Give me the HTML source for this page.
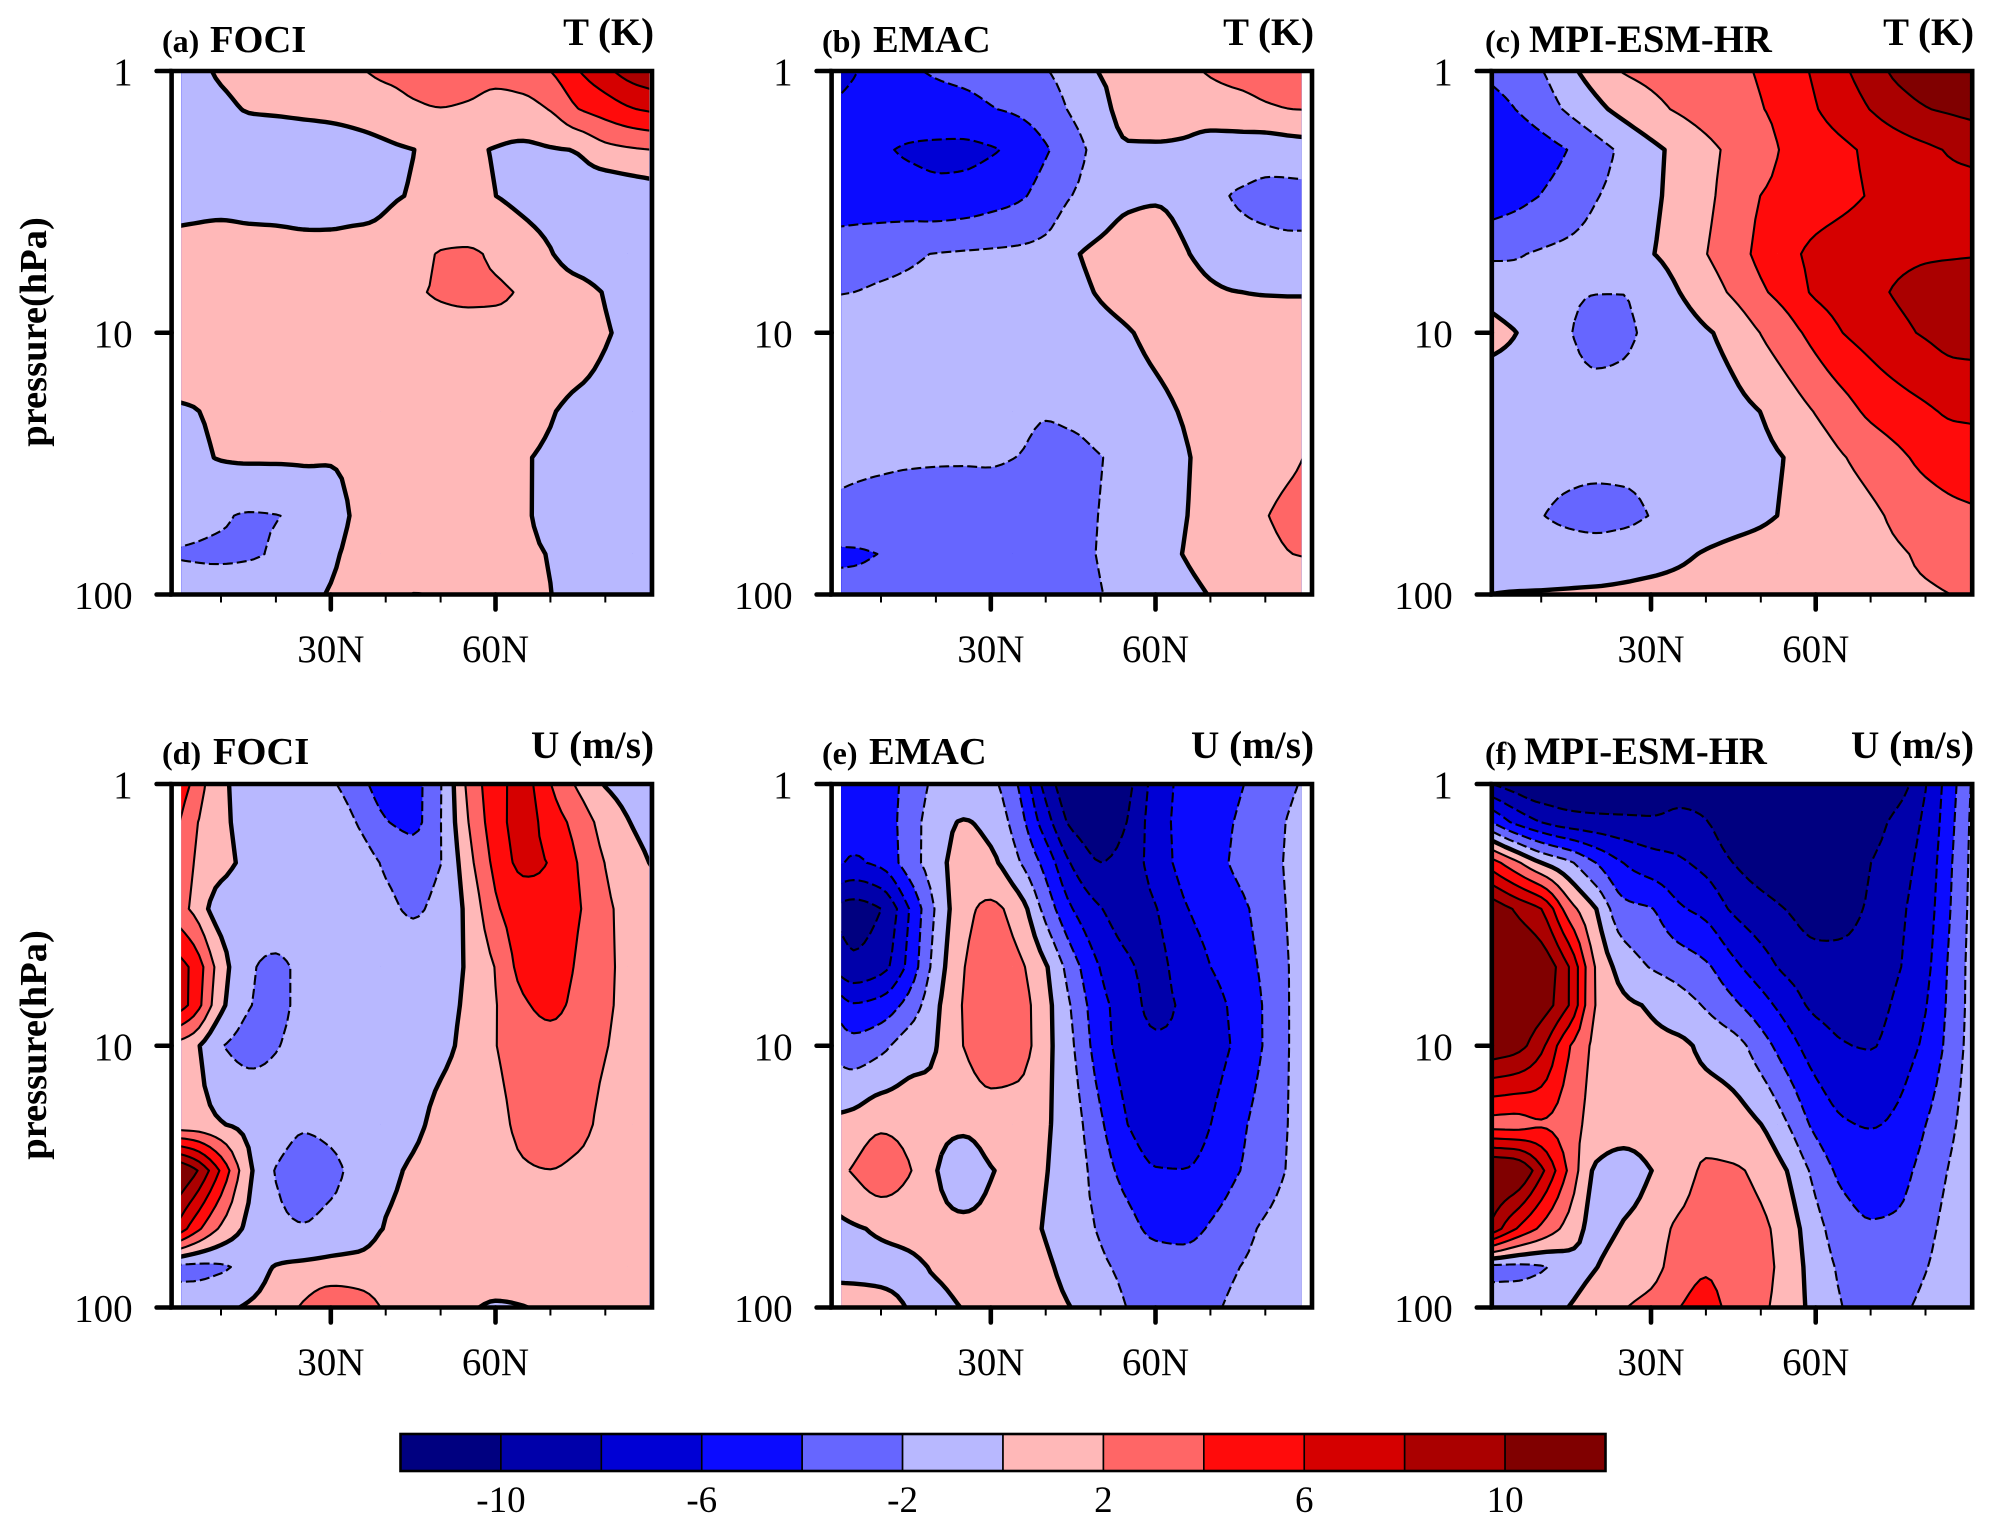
<!DOCTYPE html>
<html lang="en">
<head>
<meta charset="utf-8">
<title>Zonal-mean T and U anomalies</title>
<style>
html,body{margin:0;padding:0;background:#fff;}
svg{display:block;font-family:"Liberation Serif",serif;}
.bold{font-weight:bold;}
</style>
</head>
<body>
<svg id="figure" xmlns="http://www.w3.org/2000/svg" width="1993" height="1530" viewBox="0 0 1993 1530">
  <rect width="1993" height="1530" fill="#fff"/>
  <g id="panels"></g>
  <g id="legend"></g>

  <text class="bold" x="162" y="52" font-size="32">(a)</text>
  <text class="bold" x="210" y="52" font-size="38.5">FOCI</text>
  <text class="bold" x="654" y="45" font-size="38.8" text-anchor="end">T (K)</text>

  <text class="bold" x="822" y="52" font-size="32">(b)</text>
  <text class="bold" x="873" y="52" font-size="38.5">EMAC</text>
  <text class="bold" x="1314" y="45" font-size="38.8" text-anchor="end">T (K)</text>

  <text class="bold" x="1485" y="52" font-size="32">(c)</text>
  <text class="bold" x="1529" y="52" font-size="38.7">MPI-ESM-HR</text>
  <text class="bold" x="1974" y="45" font-size="38.8" text-anchor="end">T (K)</text>

  <text class="bold" x="162" y="764" font-size="32">(d)</text>
  <text class="bold" x="213" y="764" font-size="38.5">FOCI</text>
  <text class="bold" x="654" y="758" font-size="39.2" text-anchor="end">U (m/s)</text>

  <text class="bold" x="822" y="764" font-size="32">(e)</text>
  <text class="bold" x="869" y="764" font-size="38.5">EMAC</text>
  <text class="bold" x="1314" y="758" font-size="39.2" text-anchor="end">U (m/s)</text>

  <text class="bold" x="1485" y="764" font-size="32">(f)</text>
  <text class="bold" x="1524" y="764" font-size="38.7">MPI-ESM-HR</text>
  <text class="bold" x="1974" y="758" font-size="39.2" text-anchor="end">U (m/s)</text>

  <text class="bold" font-size="38.5" text-anchor="middle" transform="translate(46,332) rotate(-90)">pressure(hPa)</text>
  <text class="bold" font-size="38.5" text-anchor="middle" transform="translate(46,1045) rotate(-90)">pressure(hPa)</text>
</svg>

<script>
const pressures = [1, 1.4, 2, 3, 5, 7, 10, 20, 30, 50, 70, 100];
const lats = [1, 5, 10, 15, 20, 25, 30, 35, 40, 45, 50, 55, 60, 65, 70, 75, 80, 85, 88.5];
const levels = [-10, -8, -6, -4, -2, 0, 2, 4, 6, 8, 10];
const bandColors = ['#000080', '#0000AA', '#0000D5', '#0B0BFF', '#6666FF', '#B8B8FF', '#FFB8B8', '#FF6666', '#FF0B0B', '#D50000', '#AA0000', '#800000'];
const latMajorTicks = [30, 60];
const latMajorLabels = ['30N', '60N'];
const latMinorTicks = [10, 20, 40, 50, 70, 80];
const pressureTicks = [1, 10, 100];
const pressureLabels = ['1', '10', '100'];
const legendLabelLevels = [-10, -6, -2, 2, 6, 10];

const panelA = [
[-.8,-.6,.3,.8,1,1.1,1.3,1.8,2.5,2.8,3,2.9,2.6,2.9,4,5.9,7.5,9,9.6],
[-1,-1,-.5,.1,.2,.3,.4,.6,.9,1.7,1.95,1.75,1.3,1.4,2.1,3.95,4.9,5.9,6.3],
[-1,-1,-1,-1,-1,-.9,-.8,-.6,-.3,-.02,.5,.3,-.1,-.4,-.15,.1,1.36,1.8,2],
[-1,-1,-1,-1.1,-1.1,-1.1,-1,-.9,-.2,.1,.6,.5,.01,-.5,-.8,-1,-1.7,-1.4,-1.15],
[.85,1.1,1.41,1.2,1.05,.8,.73,.89,.55,1.2,2.1,2.2,1.7,.9,.1,-.8,-1,-1,-1],
[1,1.2,1.2,1.1,1.1,1.1,1.2,1.2,1.3,1.8,2.15,2.3,2.25,1.8,1,.6,-.1,-.8,-.9],
[.7,.8,.9,1,1,1,1,1.1,1.2,1.4,1.5,1.5,1.5,1.4,1.2,.9,.15,-.4,-.5],
[-.12,-.05,.3,.5,.6,.6,.7,.7,.8,.9,.9,.9,.8,.5,.1,-.4,-.6,-.7,-.7],
[-.7,-.4,.1,.25,.25,.25,.12,.3,.5,.6,.7,.6,.4,.1,-.2,-.5,-.6,-.7,-.7],
[-1.3,-1.5,-1.8,-2.15,-2.05,-1.5,-.7,.25,.6,.7,.7,.7,.5,.15,-.3,-.5,-.6,-.7,-.7],
[-2.1,-2.2,-2.3,-2.2,-1.8,-1.2,-.25,.4,.7,.8,.8,.7,.5,.2,-.05,-.4,-.6,-.7,-.7],
[-1.2,-1.2,-1.1,-1,-.8,-.4,.1,.5,1,2.05,1.9,1.5,1,.5,.02,-.4,-.6,-.7,-.7]
];
const panelB = [
[-6.5,-6.1,-5.3,-4.3,-3.8,-3.5,-3.2,-2.8,-2.1,-1.1,.1,.6,1,1.5,2.2,2.8,3.2,3.5,3.7],
[-5.9,-5.6,-5.2,-5,-4.8,-4.6,-4.1,-3.7,-3,-1.7,-.6,.7,.8,1,1,1.1,1.7,2,2.05],
[-5.5,-5.5,-5.8,-6.2,-6.4,-6.5,-6.2,-5.4,-4.2,-2.8,-1.2,-.2,-.2,-.4,-.9,-.9,-1.26,-1.03,-.83],
[-5.2,-5.2,-5.3,-5.4,-5.6,-5.4,-4.9,-4.3,-3.2,-1.95,-1.2,-.4,-.2,-.6,-1.4,-2.2,-2.5,-2.6,-2.6],
[-3,-2.8,-2.5,-2.2,-1.95,-1.8,-1.7,-1.6,-1.4,-.2,.5,1,1,.2,-.6,-1.3,-1.5,-1.6,-1.6],
[-2.1,-2,-1.8,-1.7,-1.6,-1.5,-1.4,-1.3,-1,-.5,.15,.6,1,.8,.3,.02,-.06,-.07,-.07],
[-1,-1,-1,-1,-1,-1,-1,-1,-1,-.9,-.5,-.1,.4,.7,.9,.8,.7,.6,.6],
[-1.2,-1.2,-1.2,-1.2,-1.2,-1.2,-1.3,-1.6,-1.9,-1.7,-1.2,-.8,-.4,.1,.6,.8,.9,1,1],
[-1.5,-1.6,-1.7,-1.8,-1.85,-1.88,-1.9,-2.02,-2.4,-2.4,-2.05,-1.4,-.9,-.2,.5,1,1.2,1.7,2.3],
[-2.3,-2.5,-2.7,-2.8,-2.8,-2.7,-2.5,-2.6,-2.7,-2.4,-1.95,-1.3,-.7,-.1,.5,1,1.9,2.6,2.9],
[-4.4,-4.3,-3.95,-3.6,-3.4,-3.2,-3,-2.9,-2.7,-2.4,-1.9,-1.3,-.6,.02,.5,1,1.5,2,2.1],
[-3.3,-3.3,-3.2,-3.1,-3,-2.9,-2.8,-2.7,-2.6,-2.4,-2.05,-1.4,-.9,-.4,.05,.5,.9,1.1,1.2]
];
const panelC = [
[-3.6,-3.1,-2.1,-.5,.9,2.1,2.5,2.8,3.2,3.6,4.2,5.2,6.3,7.7,9,10.5,11.2,11.5,11.6],
[-4.7,-4.05,-3,-1.7,-.5,.6,1.5,2.2,2.8,3.3,3.9,4.8,5.9,7,8.05,9.1,9.9,10.3,10.6],
[-5.8,-5.4,-4.8,-3.95,-2.8,-1.6,-.5,.5,1.5,2.4,3.1,4.4,5,5.6,6.4,7,7.6,8.2,8.4],
[-5.2,-4.7,-3.95,-3.2,-2.1,-1.4,-.4,.6,1.6,2.8,4.02,4.6,5,5.5,6.15,6.8,7.1,7.3,7.36],
[-2.3,-2.15,-1.8,-1.5,-1.2,-.8,-.1,.8,1.95,3.1,4.5,5.5,6.5,7,7.3,7.6,7.8,7.85,7.9],
[-.7,-1.2,-1.5,-1.8,-1.97,-1.98,-1.3,-.05,1.1,2.3,3.7,4.8,6.3,6.9,7.5,8.2,8.6,8.9,9],
[.7,.1,-1,-1.9,-2.5,-2.3,-1.6,-1,-.2,.6,2.05,3.3,4.7,6.02,6.8,7.6,8.2,8.8,8.9],
[-1.7,-1.5,-1.4,-1.4,-1.4,-1.4,-1.3,-1.2,-.9,-.5,.02,1,2.1,3.2,4.4,5.1,5.7,6.25,6.3],
[-1.5,-1.4,-1.5,-1.6,-1.6,-1.6,-1.6,-1.4,-1.1,-.8,-.4,.1,.9,1.9,2.7,3.6,4.5,5,5.2],
[-1.2,-1.4,-1.95,-2.3,-2.5,-2.4,-1.95,-1.5,-1.1,-.7,-.3,.2,.6,1,1.6,2.4,3,3.5,3.7],
[-1.2,-1.2,-1.3,-1.4,-1.4,-1.2,-.9,-.4,.15,.5,.7,.9,1.05,1.2,1.4,1.8,2.3,2.7,2.9],
[.02,.1,.15,.25,.35,.5,.7,.8,1,1.1,1.2,1.3,1.4,1.5,1.6,1.7,1.8,2.02,2.2]
];
const panelD = [
[6.02,3.6,.3,-.4,-.5,-.6,-1.7,-3.3,-4.8,-4.5,-2.1,2.4,5.2,6.6,4.05,1.7,-.1,-.7,-.9],
[5,2.4,.4,-.4,-.4,-.5,-.6,-2.15,-3.9,-4.4,-2.05,1.95,5.02,6.8,5.02,3.3,1.2,-.1,-.6],
[5.02,2.02,.6,-.3,-.4,-.5,-.6,-.9,-2.3,-3.1,-2.05,1.3,4.5,6.4,5.9,3.95,1.95,.6,-.1],
[3.4,1.6,-.9,-1.01,-.7,-.6,-.6,-.7,-1.4,-2.3,-1.2,.4,3.7,5.02,5.4,4.2,2.4,1.3,1],
[7.4,5.5,1,-1.7,-2.4,-1.5,-1,-.6,-.5,-.5,-.3,.1,2.1,4.7,5.6,3.7,2.6,1,.7],
[7.8,5.3,.5,-1.9,-2.4,-1.5,-1,-.7,-.5,-.5,-.3,.2,1.9,3.7,4.5,3.4,2.3,1.4,1],
[1.6,.5,-1.9,-2.6,-2.1,-1.4,-1,-.9,-.8,-.6,-.3,.4,1.95,2.8,3.2,2.9,2.1,1.2,.9],
[.6,.6,.1,-.5,-1,-1.8,-1.5,-1,-.7,-.3,.4,.8,1.4,2.5,3,2.6,1.5,1,.8],
[13,10.6,5.7,.5,-2.1,-2.9,-2.5,-1.3,-.4,.2,.6,.9,1.2,1.8,1.97,1.6,1.1,.8,.6],
[8.5,5.02,1.7,-.4,-1.6,-1.9,-1.5,-1.2,.1,.4,.6,.7,.8,.9,.9,.9,.8,.7,.6],
[-2.6,-2.6,-2.3,-1.2,.1,.4,.6,.8,1,1.1,1.1,1.1,1,1,1,1,.9,.9,.8],
[-1,-.9,-.4,.2,.8,2.3,3.6,3,1.8,1,.6,.2,-.2,-.05,.3,.5,.6,.6,.6]
];
const panelE = [
[-3.7,-4.4,-4.6,-3.5,-1.6,-1.2,-1.6,-4.1,-8.7,-11.5,-11.5,-10.4,-7.2,-5.6,-5.02,-4.2,-3.3,-2.2,-1.5],
[-4.5,-5.2,-5.02,-3,-1,.1,-.6,-3.1,-7.1,-10.5,-11.3,-9.9,-6.9,-5.5,-4.8,-3.85,-3,-1.7,-1.2],
[-5.5,-6.2,-5.5,-3,-.9,.9,.4,-1.8,-4.7,-8.3,-9.98,-9.1,-7.1,-5.5,-4.8,-3.6,-2.8,-1.6,-1.1],
[-10.4,-11,-10.02,-6.1,-1.8,1.3,2.4,1,-2.7,-6.05,-7.9,-9,-8.1,-6.2,-5.4,-4.5,-3.2,-1.7,-1.2],
[-8.3,-9.6,-8.7,-5.5,-1.2,1.9,3.3,2.4,.2,-3.2,-6.1,-7.7,-8.6,-7,-6.01,-4.9,-3.6,-1.8,-1.2],
[-4.02,-5.8,-5.2,-3.3,-.4,2.1,3.3,2.8,.6,-2.3,-5.4,-7,-8.6,-7.7,-6.8,-5.4,-3.8,-1.8,-1.2],
[-2.4,-3.2,-2.5,-.9,-.05,2.02,3.3,2.9,.6,-1.9,-5.1,-6.9,-7.6,-7.7,-6.9,-5.6,-3.8,-1.8,-1.2],
[.3,.8,1.65,1.3,.6,.5,.9,.9,.2,-1.2,-3.7,-6.02,-7.1,-7.3,-6.02,-4.5,-3.1,-1.8,-1.2],
[1.2,2.2,3.5,2.2,.1,-1.5,-.1,.4,.05,-1,-3,-4.8,-5.9,-5.95,-5.3,-4.1,-3,-1.7,-1.2],
[-.6,-.2,.2,.4,.6,.6,.5,.4,-.1,-1.2,-2.2,-3.3,-4.5,-4.7,-3.8,-2.8,-1.7,-1.1,-.9],
[-.8,-.7,-.5,-.3,.15,.6,.7,.6,.2,-.6,-1.7,-2.4,-2.9,-3,-2.7,-2.05,-1.4,-1,-.8],
[1.3,1,.5,-.05,-.4,.05,.4,.6,.4,-.05,-1,-2.05,-2.6,-2.8,-2.3,-1.6,-1.2,-.9,-.8]
];
const panelF = [
[-10.02,-11,-12,-12,-12,-12,-12,-11,-11,-12,-12,-12,-12,-12,-12,-11,-8.1,-4.5,-1.8],
[-4.02,-6.3,-8.02,-9.1,-9.4,-9.5,-9.6,-9.4,-9.9,-11.5,-12,-12,-12,-12,-11,-9.3,-7.6,-4.2,-1.6],
[4.9,2.7,.02,-1.6,-4.02,-6.02,-7.1,-7.7,-8.6,-10.02,-11,-11.5,-12,-12,-10.02,-8.8,-7.2,-3.9,-1.5],
[11.5,9.9,8.02,3,.02,-3.4,-3.9,-5.7,-6.6,-8.3,-9.3,-10.1,-10.9,-10.6,-9.7,-8.4,-6.9,-3.7,-1.4],
[13,12.5,11.5,8.05,1.8,-.8,-2.1,-2.8,-3.7,-5.5,-7.1,-8.5,-9.2,-9.4,-9.2,-8.15,-6.5,-3.3,-1.3],
[13,12,11,8.02,1.9,.4,-.2,-1.1,-2.2,-3.6,-5.2,-6.9,-8.4,-8.7,-8.7,-7.6,-6.1,-3.2,-1.3],
[11.5,10.9,8.5,4.2,1.6,.9,.5,.4,-.5,-1.2,-3.1,-5.2,-7,-7.9,-8.1,-7,-5.6,-3,-1.2],
[3,2.9,3.7,2.8,1.3,.9,.9,.8,1.2,.9,.02,-2.02,-4.5,-5.8,-6.1,-5.6,-4.02,-2.2,-1],
[13,12.5,8.5,3.7,-.3,-.85,-.02,.8,2.3,2.2,1.5,-.1,-2.6,-4.5,-5.02,-4.6,-3.3,-1.7,-.9],
[9.44,6.3,3.6,1.3,-.6,.15,.8,2.4,3,2.9,2.4,.9,-1.3,-3.1,-3.8,-3.7,-2.6,-1.2,-.8],
[-2.6,-2.6,-2.2,-1,-.05,.9,1.3,3,3.8,3.1,2.7,1,-.8,-2.4,-3.1,-3.1,-2.1,-1,-.7],
[-1,-.9,-.7,.02,1,1.9,2.6,3.95,4.6,3.4,2.4,1,-.6,-2.02,-2.8,-2.4,-1.5,-.8,-.6]
];

const layouts = [
  { key: 'a', grid: panelA, left: 171.6, top: 71,  fillFrom: 2.75, fillTo: 88 },
  { key: 'b', grid: panelB, left: 831.6, top: 71,  fillFrom: 2.75, fillTo: 86.6 },
  { key: 'c', grid: panelC, left: 1491.8, top: 71, fillFrom: 1, fillTo: 88.5 },
  { key: 'd', grid: panelD, left: 171.6, top: 784, fillFrom: 2.75, fillTo: 88 },
  { key: 'e', grid: panelE, left: 831.6, top: 784, fillFrom: 2.75, fillTo: 86.6 },
  { key: 'f', grid: panelF, left: 1491.8, top: 784, fillFrom: 1, fillTo: 88.5 }
];
const PW = 480.4, PH = 523.5, DEG = 5.49, AXIS_W = 4.6, REFINE = 5;
const NS = 'http://www.w3.org/2000/svg';

function mk(parent, tag, attrs, text) {
  const el = document.createElementNS(NS, tag);
  for (const k in attrs) el.setAttribute(k, attrs[k]);
  if (text !== undefined) el.textContent = text;
  parent.appendChild(el);
  return el;
}

/* Monotone cubic refinement along latitude: passes through every value read
   from the grid, never overshoots, and rounds the contours the way the original does. */
function refineRow(xs, ys) {
  const n = xs.length;
  const h = [], d = [], m = new Array(n);
  for (let i = 0; i < n - 1; i++) {
    h.push(xs[i + 1] - xs[i]);
    d.push((ys[i + 1] - ys[i]) / h[i]);
  }
  m[0] = d[0];
  m[n - 1] = d[n - 2];
  for (let i = 1; i < n - 1; i++) {
    if (d[i - 1] * d[i] <= 0) {
      m[i] = 0;
    } else {
      const w1 = 2 * h[i] + h[i - 1], w2 = h[i] + 2 * h[i - 1];
      m[i] = (w1 + w2) / (w1 / d[i - 1] + w2 / d[i]);
    }
  }
  const out = [];
  for (let i = 0; i < n - 1; i++) {
    for (let s = 0; s < REFINE; s++) {
      const t = s / REFINE, t2 = t * t, t3 = t2 * t;
      out.push((2 * t3 - 3 * t2 + 1) * ys[i] + (t3 - 2 * t2 + t) * h[i] * m[i] +
               (-2 * t3 + 3 * t2) * ys[i + 1] + (t3 - t2) * h[i] * m[i + 1]);
    }
  }
  out.push(ys[n - 1]);
  return out;
}

function refineLats() {
  const out = [];
  for (let i = 0; i < lats.length - 1; i++) {
    for (let s = 0; s < REFINE; s++) out.push(lats[i] + (lats[i + 1] - lats[i]) * s / REFINE);
  }
  out.push(lats[lats.length - 1]);
  return out;
}

function contourCells(grid, gridLats, level, xAt, yAt) {
  let fill = '';
  const segs = [];
  for (let j = 0; j < pressures.length - 1; j++) {
    for (let i = 0; i < gridLats.length - 1; i++) {
      const cs = [[i, j], [i + 1, j], [i + 1, j + 1], [i, j + 1]];
      const ids = ['h' + i + '_' + j, 'v' + (i + 1) + '_' + j, 'h' + i + '_' + (j + 1), 'v' + i + '_' + j];
      const vals = cs.map(c => grid[c[1]][c[0]]);
      const pts = cs.map(c => [xAt(gridLats[c[0]]), yAt(pressures[c[1]])]);
      const poly = [];
      let pending = null;
      let firstEnter = null;
      for (let k = 0; k < 4; k++) {
        const n = (k + 1) % 4;
        const a = vals[k], b = vals[n];
        const inA = a >= level, inB = b >= level;
        if (inA) poly.push(pts[k]);
        if (inA !== inB) {
          const t = (level - a) / (b - a);
          const p = [pts[k][0] + t * (pts[n][0] - pts[k][0]), pts[k][1] + t * (pts[n][1] - pts[k][1])];
          poly.push(p);
          const cross = { id: ids[k], p: p };
          if (inA) {
            pending = cross;
          } else if (pending) {
            segs.push([pending, cross]);
            pending = null;
          } else {
            firstEnter = cross;
          }
        }
      }
      if (pending && firstEnter) segs.push([pending, firstEnter]);
      if (poly.length > 2) {
        fill += 'M' + poly.map(p => p[0].toFixed(1) + ' ' + p[1].toFixed(1)).join('L') + 'Z';
      }
    }
  }
  return { fill: fill, segs: segs };
}

function chain(segs) {
  const byId = new Map();
  segs.forEach((s, idx) => {
    s.forEach(end => {
      if (!byId.has(end.id)) byId.set(end.id, []);
      byId.get(end.id).push(idx);
    });
  });
  const used = new Array(segs.length).fill(false);
  let d = '';
  function walk(startIdx, startEndIdx) {
    let idx = startIdx, from = startEndIdx;
    const line = [segs[idx][from].p];
    while (true) {
      used[idx] = true;
      const to = segs[idx][1 - from];
      line.push(to.p);
      const nextIdx = byId.get(to.id).find(q => !used[q]);
      if (nextIdx === undefined) break;
      from = segs[nextIdx][0].id === to.id ? 0 : 1;
      idx = nextIdx;
    }
    d += 'M' + line.map(p => p[0].toFixed(1) + ' ' + p[1].toFixed(1)).join('L');
  }
  segs.forEach((s, idx) => {
    if (used[idx]) return;
    if (byId.get(s[0].id).length === 1) walk(idx, 0);
    else if (byId.get(s[1].id).length === 1) walk(idx, 1);
  });
  segs.forEach((s, idx) => {
    if (!used[idx]) walk(idx, 0);
  });
  return d;
}

function drawPanel(root, cfg) {
  const xAt = lat => cfg.left + (lat - 1) * DEG;
  const yAt = p => cfg.top + Math.log10(p) / 2 * PH;
  const g = mk(root, 'g', {});
  
  

  const clipId = 'clip-' + cfg.key;
  const defs = mk(g, 'defs', {});
  
  
  const clip = mk(defs, 'clipPath', { id: clipId });
  
  
  const clipRect = mk(clip, 'rect', { x: xAt(cfg.fillFrom), y: cfg.top, width: xAt(cfg.fillTo) - xAt(cfg.fillFrom), height: PH });
  
  

  const plot = mk(g, 'g', { 'clip-path': 'url(#' + clipId + ')' });
  
  

  const base = mk(plot, 'rect', { x: xAt(1), y: cfg.top, width: xAt(88.5) - xAt(1), height: PH, fill: bandColors[0] });
  
  

  const fineLats = refineLats();
  const fineGrid = cfg.grid.map(row => refineRow(lats, row));
  const results = levels.map(level => contourCells(fineGrid, fineLats, level, xAt, yAt));
  results.forEach((res, idx) => {
    const band = mk(plot, 'path', { d: res.fill, fill: bandColors[idx + 1] });
    
    
  });
  results.forEach((res, idx) => {
    const level = levels[idx];
    const attrs = {
      d: chain(res.segs), fill: 'none', stroke: '#000',
      'stroke-width': level === 0 ? 4.4 : 2.1,
      'stroke-linejoin': 'round'
    };
    if (level < 0) attrs['stroke-dasharray'] = '10 4';
    const line = mk(plot, 'path', attrs);
    
    
  });

  const frame = mk(g, 'path', {
    d: 'M' + cfg.left + ' ' + cfg.top + 'H' + (cfg.left + PW) + 'V' + (cfg.top + PH) + 'H' + cfg.left + 'Z',
    fill: 'none', stroke: '#000', 'stroke-width': AXIS_W
  });
  
  

  pressureTicks.forEach((p, i) => {
    const y = yAt(p);
    const tick = mk(g, 'line', { x1: cfg.left - 15, x2: cfg.left, y1: y, y2: y, stroke: '#000', 'stroke-width': AXIS_W, 'stroke-linecap': 'round' });
    
    
    const label = mk(g, 'text', { x: cfg.left - 39, y: y + 14, 'font-size': 39, 'text-anchor': 'end' }, pressureLabels[i]);
    
    
  });
  latMajorTicks.forEach((lat, i) => {
    const x = xAt(lat);
    const tick = mk(g, 'line', { x1: x, x2: x, y1: cfg.top + PH, y2: cfg.top + PH + 15, stroke: '#000', 'stroke-width': AXIS_W, 'stroke-linecap': 'round' });
    
    
    const label = mk(g, 'text', { x: x, y: cfg.top + PH + 67.5, 'font-size': 39, 'text-anchor': 'middle' }, latMajorLabels[i]);
    
    
  });
  latMinorTicks.forEach(lat => {
    const x = xAt(lat);
    const tick = mk(g, 'line', { x1: x, x2: x, y1: cfg.top + PH, y2: cfg.top + PH + 8, stroke: '#000', 'stroke-width': 2 });
    
    
  });
}

function drawLegend(root) {
  const lx0 = 400.5, lw = 1205, ly = 1434, lh = 37;
  const boxW = lw / bandColors.length;
  const legendX = level => lx0 + (level + 12) / 2 * boxW;
  bandColors.forEach((color, i) => {
    const box = mk(root, 'rect', { x: lx0 + i * boxW, y: ly, width: boxW, height: lh, fill: color, stroke: '#000', 'stroke-width': 1.6 });
    
    
  });
  const border = mk(root, 'rect', { x: lx0, y: ly, width: lw, height: lh, fill: 'none', stroke: '#000', 'stroke-width': 2.6 });
  
  
  legendLabelLevels.forEach(level => {
    const label = mk(root, 'text', { x: legendX(level), y: 1512, 'font-size': 37, 'text-anchor': 'middle' }, String(level));
    
    
  });
}

const panelsRoot = document.getElementById('panels');
layouts.forEach(cfg => drawPanel(panelsRoot, cfg));
drawLegend(document.getElementById('legend'));
</script>
</body>
</html>
